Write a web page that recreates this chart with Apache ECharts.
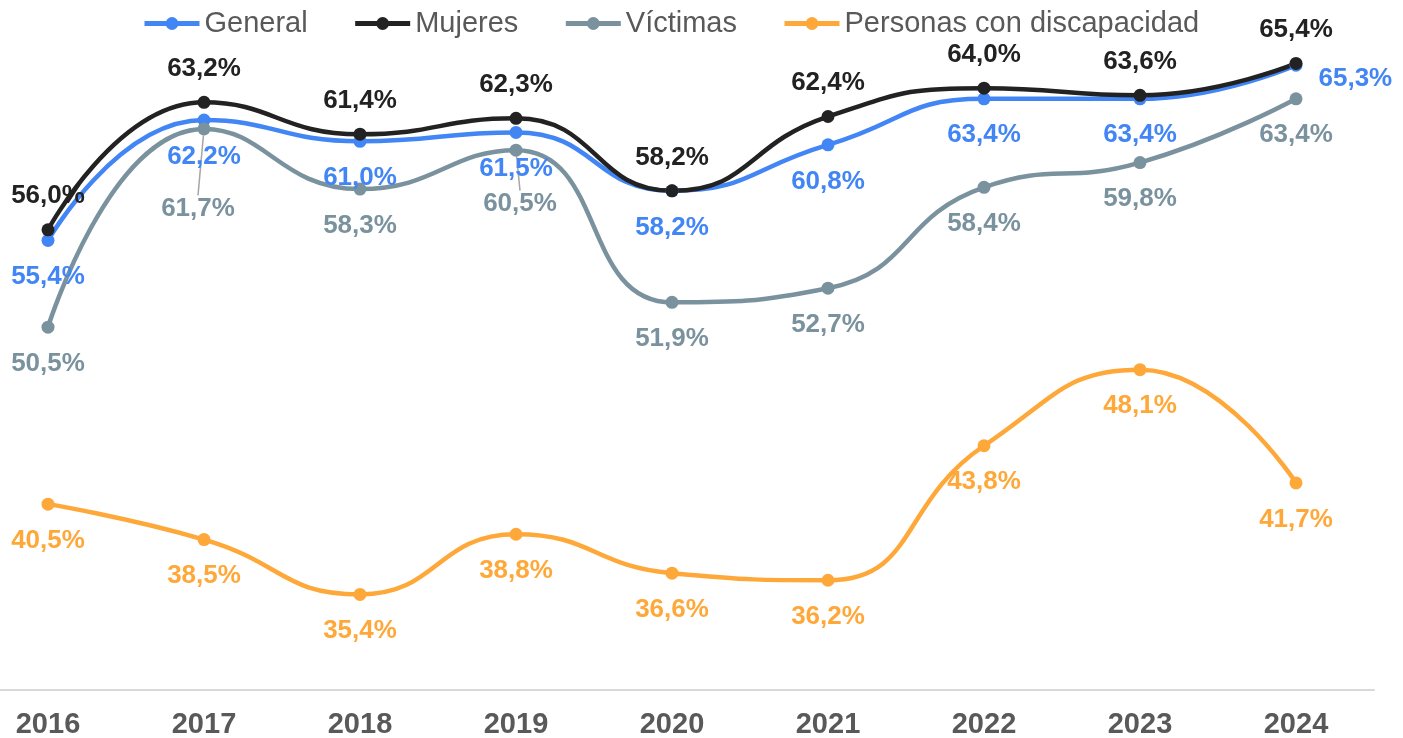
<!DOCTYPE html>
<html>
<head>
<meta charset="utf-8">
<script src="https://cdn.jsdelivr.net/npm/echarts@6/dist/echarts.min.js"></script>
<style>
  html, body { margin: 0; padding: 0; background: #fff; }
  #chart { width: 1403px; height: 738px; }
</style>
</head>
<body>
<div id="chart"></div>
<script>
const years = ['2016', '2017', '2018', '2019', '2020', '2021', '2022', '2023', '2024']
const general = [55.4, 62.2, 61.0, 61.5, 58.2, 60.8, 63.4, 63.4, 65.3]
const mujeres = [56.0, 63.2, 61.4, 62.3, 58.2, 62.4, 64.0, 63.6, 65.4]
const victimas = [50.5, 61.7, 58.3, 60.5, 51.9, 52.7, 58.4, 59.8, 63.4]
const discapacidad = [40.5, 38.5, 35.4, 38.8, 36.6, 36.2, 43.8, 48.1, 41.7]

const fmt = function (p) {
  return p.value.toFixed(1).replace('.', ',') + '%'
}

function lineSeries (name, data, color, pos, dist) {
  return {
    name: name,
    type: 'line',
    data: data,
    smooth: 0.5,
    symbol: 'circle',
    symbolSize: 13,
    lineStyle: { color: color, width: 4.5 },
    itemStyle: { color: color },
    label: {
      show: true,
      position: pos,
      distance: dist,
      formatter: fmt,
      color: color,
      fontFamily: 'Liberation Sans, Arial',
      fontWeight: 'bold',
      fontSize: 26
    }
  }
}

const chart = echarts.init(document.getElementById('chart'))

const sGeneral = lineSeries('General', general.map(function (v, i) {
  if (i === 8) return { value: v, label: { position: 'right', distance: 16, offset: [0, 14] } }
  return v
}), '#4285f4', 'bottom', 17)

const sMujeres = lineSeries('Mujeres', mujeres, '#222222', 'top', 14)

// two labels pushed down with a thin leader line, as in the original
const sVictimas = lineSeries('Víctimas', victimas.map(function (v, i) {
  if (i === 1 || i === 3) return { value: v, labelLine: { show: true } }
  return v
}), '#7a929e', 'bottom', 17)
sVictimas.labelLayout = function (p) {
  if (p.dataIndex === 1) return { dx: -6, dy: 43 }
  if (p.dataIndex === 3) return { dx: 4, dy: 17 }
  return {}
}
sVictimas.labelLine = { show: false, lineStyle: { color: '#a6a6a6', width: 1.5 } }

const sDisc = lineSeries('Personas con discapacidad', discapacidad, '#ffa83a', 'bottom', 17)

chart.setOption({
  animation: false,
  legend: {
    left: 137,
    top: 4,
    itemWidth: 55,
    itemHeight: 16,
    itemGap: 45,
    lineStyle: { width: 5 },
    textStyle: {
      color: '#595959',
      fontFamily: 'Liberation Sans, Arial',
      fontSize: 29
    },
    data: ['General', 'Mujeres', 'Víctimas', 'Personas con discapacidad']
  },
  grid: {
    left: -30,
    right: 29,
    top: -18,
    bottom: 48,
    outerBoundsMode: 'none'
  },
  xAxis: {
    type: 'category',
    data: years,
    boundaryGap: true,
    axisLine: { lineStyle: { color: '#d9d9d9', width: 2 } },
    axisTick: { show: false },
    axisLabel: {
      color: '#595959',
      fontFamily: 'Liberation Sans, Arial',
      fontWeight: 'bold',
      fontSize: 29,
      margin: 20
    }
  },
  yAxis: {
    type: 'value',
    min: 30,
    max: 70,
    show: false,
    splitLine: { show: false }
  },
  series: [sGeneral, sMujeres, sVictimas, sDisc]
})
</script>
</body>
</html>
